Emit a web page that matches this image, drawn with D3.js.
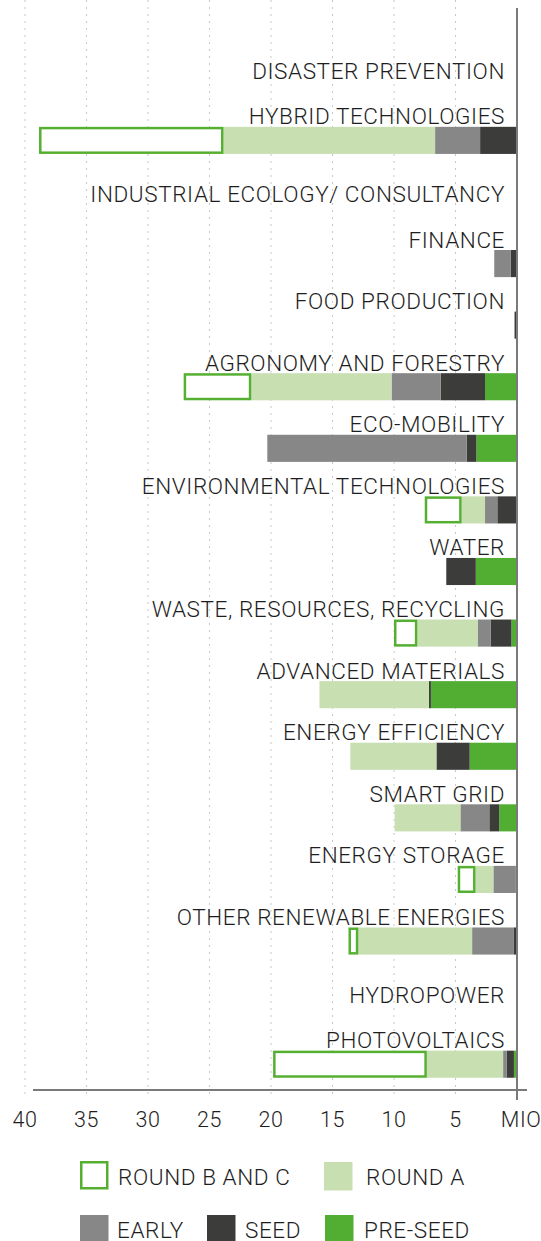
<!DOCTYPE html>
<html>
  <head>
    <meta charset="utf-8">
    <title>Investments by sector</title>
  </head>

  <style>
    body {
      margin: 0;
      background: #FFFFFF;
    }
    text {
      font-family: "Roboto", "Liberation Sans", sans-serif;
      font-weight: 300;
      fill: #1e1e1e;
    }
  </style>

  <body>
    <script src="https://cdn.jsdelivr.net/npm/d3@7/dist/d3.min.js"></script>
    <script>

      // values in MIO
      var categories = ["DISASTER PREVENTION", "HYBRID TECHNOLOGIES", "INDUSTRIAL ECOLOGY/ CONSULTANCY",
        "FINANCE", "FOOD PRODUCTION", "AGRONOMY AND FORESTRY", "ECO-MOBILITY",
        "ENVIRONMENTAL TECHNOLOGIES", "WATER", "WASTE, RESOURCES, RECYCLING",
        "ADVANCED MATERIALS", "ENERGY EFFICIENCY", "SMART GRID", "ENERGY STORAGE",
        "OTHER RENEWABLE ENERGIES", "HYDROPOWER", "PHOTOVOLTAICS"];

      var preSeed = [0, 0,    0, 0,    0,   2.6, 3.3,  0,   3.35, 0.45, 7.0,  3.85, 1.45, 0,    0,    0, 0.25];
      var seed    = [0, 3.0,  0, 0.5,  0.2, 3.6, 0.8,  1.6, 2.4,  1.7,  0.16, 2.7,  0.8,  0.12, 0.25, 0, 0.6];
      var early   = [0, 3.66, 0, 1.35, 0,   4.0, 16.2, 1.0, 0,    1.05, 0,    0,    2.35, 1.8,  3.4,  0, 0.28];
      var roundA  = [0, 17.2, 0, 0,    0,   11.4, 0,   1.9, 0,    4.9,  8.9,  7.0,  5.35, 1.45, 9.25, 0, 6.2];
      var roundBC = [0, 15.0, 0, 0,    0,   5.5, 0,    3.0, 0,    1.9,  0,    0,    0,    1.45, 0.8,  0, 12.5];

      var ticks = [40, 35, 30, 25, 20, 15, 10, 5, 0];

      var keys = ["preSeed", "seed", "early", "roundA", "roundBC"];
      var colors = {
        preSeed: "#52AD33",
        seed: "#3C3C3A",
        early: "#878787",
        roundA: "#C8DFB2",
        roundBC: "#FFFFFF"
      };
      var outline = "#55B032";

      var legendRows = [
        [{key: "roundBC", label: "ROUND B AND C"}, {key: "roundA", label: "ROUND A"}],
        [{key: "early", label: "EARLY"}, {key: "seed", label: "SEED"}, {key: "preSeed", label: "PRE-SEED"}]
      ];

      var rows = categories.map((c, i) => {
        return {
          name: c,
          preSeed: preSeed[i],
          seed: seed[i],
          early: early[i],
          roundA: roundA[i],
          roundBC: roundBC[i]
        };
      });

      var width = 541,
        height = 1241;

      var svg = d3.select("body")
        .append("svg")
        .attr("width", width)
        .attr("height", height);

      var x = d3.scaleLinear()
        .domain([0, 40])
        .range([517, 25]);

      var y = d3.scaleBand()
        .domain(categories)
        .range([48, 1095])
        .paddingInner(0.56)
        .paddingOuter(0.28);

      // dotted grid
      svg.append("g")
        .selectAll("line")
        .data(ticks.filter(d => d > 0))
        .enter()
        .append("line")
        .attr("x1", d => x(d))
        .attr("x2", d => x(d))
        .attr("y1", 0)
        .attr("y2", 1096)
        .attr("stroke", "#C8C8C8")
        .attr("stroke-width", 1)
        .attr("stroke-dasharray", "2,5");

      var stack = d3.stack().keys(keys);
      var series = stack(rows);

      var layer = svg.append("g")
        .selectAll("g")
        .data(series)
        .enter()
        .append("g");

      layer.selectAll("rect")
        .data(d => d.map(p => ({key: d.key, p: p})))
        .enter()
        .filter(d => d.p[1] - d.p[0] > 0)
        .append("rect")
        .attr("x", d => x(d.p[1]) + (d.key === "roundBC" ? 1.25 : 0))
        .attr("y", d => y(d.p.data.name) + (d.key === "roundBC" ? 1.25 : 0))
        .attr("width", d => x(d.p[0]) - x(d.p[1]) - (d.key === "roundBC" ? 2.5 : 0))
        .attr("height", d => y.bandwidth() - (d.key === "roundBC" ? 2.5 : 0))
        .attr("fill", d => colors[d.key])
        .attr("stroke", d => d.key === "roundBC" ? outline : "none")
        .attr("stroke-width", 2.5);

      // category labels
      svg.append("g")
        .selectAll("text")
        .data(rows)
        .enter()
        .append("text")
        .attr("x", 505)
        .attr("y", d => {
          var total = keys.reduce((s, k) => s + d[k], 0);
          return total > 0 ? y(d.name) - 2.5 : y(d.name) + y.bandwidth() / 2;
        })
        .attr("text-anchor", "end")
        .style("font-size", "22.5px")
        .style("letter-spacing", "0.6px")
        .text(d => d.name);

      // axes
      svg.append("line")
        .attr("x1", 33)
        .attr("x2", 527)
        .attr("y1", 1090)
        .attr("y2", 1090)
        .attr("stroke", "#7A7A7A")
        .attr("stroke-width", 2);

      svg.append("line")
        .attr("x1", x(0))
        .attr("x2", x(0))
        .attr("y1", 8)
        .attr("y2", 1100)
        .attr("stroke", "#7A7A7A")
        .attr("stroke-width", 2);

      svg.append("g")
        .selectAll("text")
        .data(ticks)
        .enter()
        .append("text")
        .attr("x", d => d === 0 ? x(d) + 4 : x(d))
        .attr("y", 1127)
        .attr("text-anchor", "middle")
        .style("font-size", "21.5px")
        .style("letter-spacing", "0.5px")
        .text(d => d === 0 ? "MIO" : d);

      // legend
      var legendX = [[80, 324], [80, 207, 325]];
      var legendTextX = [[118, 366], [117, 245, 364]];
      var legendY = [1161, 1214];

      legendRows.forEach((row, r) => {
        var g = svg.append("g");
        g.selectAll("rect")
          .data(row)
          .enter()
          .append("rect")
          .attr("x", (d, i) => legendX[r][i] + (d.key === "roundBC" ? 1.25 : 0))
          .attr("y", d => legendY[r] + (d.key === "roundBC" ? 1.25 : 1))
          .attr("width", d => d.key === "roundBC" ? 26 : 28.5)
          .attr("height", d => d.key === "roundBC" ? 26 : 28.5)
          .attr("fill", d => colors[d.key])
          .attr("stroke", d => d.key === "roundBC" ? outline : "none")
          .attr("stroke-width", 2.5);

        g.selectAll("text")
          .data(row)
          .enter()
          .append("text")
          .attr("x", (d, i) => legendTextX[r][i])
          .attr("y", legendY[r] + 23.5)
          .style("font-size", "22.5px")
          .style("letter-spacing", "0.6px")
          .text(d => d.label);
      });

    </script>
  </body>
</html>
